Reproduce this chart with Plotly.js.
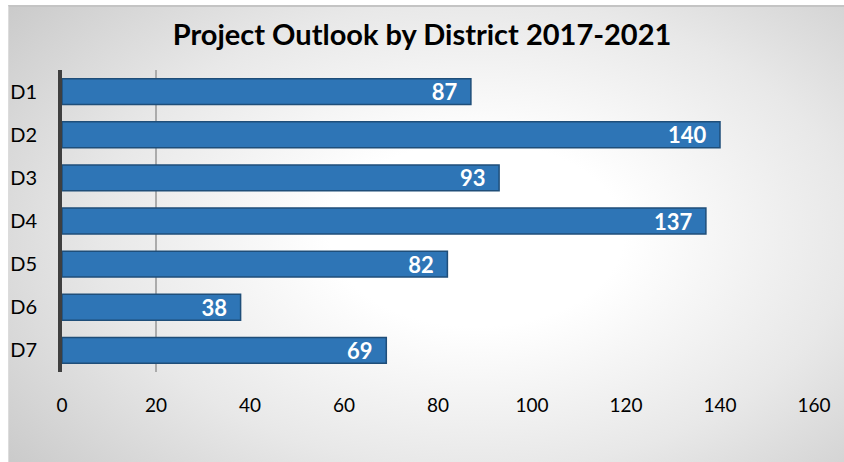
<!DOCTYPE html>
<html>
<head>
<meta charset="utf-8">
<script src="https://cdn.plot.ly/plotly-3.0.1.min.js"></script>
<style>
  html, body { margin: 0; padding: 0; background: #ffffff; }
  #wrap { position: relative; width: 844px; height: 462px; overflow: hidden; }
  #bg { position: absolute; left: 8px; top: 5px; right: 0; bottom: 0;
        border-top: 2px solid #c4c4c4; border-left: 1px solid #dcdcdc;
        background: radial-gradient(ellipse 80% 92% at 56% 50%, #ffffff 0%, #ffffff 22%, #e8e8e8 56%, #c0c0c0 100%); }
  #chart { position: absolute; left: 0; top: 0; width: 844px; height: 462px; }
</style>
</head>
<body>
<div id="wrap"><div id="bg"></div><div id="chart"></div></div>
<script>
const districts = ["D1", "D2", "D3", "D4", "D5", "D6", "D7"];
const projects = [87, 140, 93, 137, 82, 38, 69];
const xTicks = [0, 20, 40, 60, 80, 100, 120, 140, 160];
const gridAt = [20];

const fontFam = "Lato, 'Open Sans', sans-serif";

const bars = {
  type: "bar",
  orientation: "h",
  y: districts,
  x: projects,
  width: 0.6,
  marker: { color: "#2E75B6", line: { color: "#1F4E79", width: 1.5 } },
  text: projects.map(v => String(v) + "\u00a0\u00a0"),
  textposition: "inside",
  insidetextanchor: "end",
  textangle: 0,
  constraintext: "none",
  textfont: { family: fontFam, size: 22, color: "#ffffff", weight: 700 },
  cliponaxis: false,
  hoverinfo: "skip"
};

const gridTrace = {
  type: "scatter", mode: "none", x: gridAt, y: [districts[0]],
  xaxis: "x2", yaxis: "y", showlegend: false, hoverinfo: "skip"
};

const layout = {
  width: 844, height: 462,
  paper_bgcolor: "rgba(0,0,0,0)",
  plot_bgcolor: "rgba(0,0,0,0)",
  margin: { l: 62, r: 30, t: 70, b: 90 },
  showlegend: false,
  title: {
    text: "Project Outlook by District 2017-2021",
    font: { family: fontFam, size: 29, color: "#000000", weight: 700 },
    x: 0.5, xanchor: "center", y: 0.925, yanchor: "middle"
  },
  xaxis: {
    range: [0, 160], tickvals: xTicks, ticktext: xTicks.map(String),
    showgrid: false, zeroline: false, showline: false, ticks: "",
    ticklabelstandoff: 20,
    tickfont: { family: fontFam, size: 19, color: "#000000" },
    fixedrange: true
  },
  xaxis2: {
    overlaying: "x", range: [0, 160], tickvals: gridAt, showticklabels: false,
    showgrid: true, gridcolor: "#ababab", gridwidth: 1.5, zeroline: false, ticks: "",
    showline: false
  },
  yaxis: {
    type: "category", autorange: "reversed",
    showgrid: false, zeroline: false,
    showline: true, linecolor: "#3f3f3f", linewidth: 4,
    ticks: "", ticklabelstandoff: 17,
    tickfont: { family: fontFam, size: 20, color: "#000000" },
    fixedrange: true
  },
  bargap: 0.4
};

Plotly.newPlot("chart", [gridTrace, bars], layout, { displayModeBar: false, staticPlot: true });
</script>
</body>
</html>
